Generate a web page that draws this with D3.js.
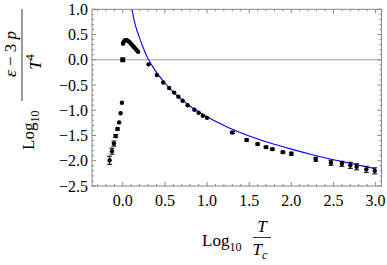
<!DOCTYPE html>
<html>
<head>
<meta charset="utf-8">
<script src="https://cdn.jsdelivr.net/npm/d3@7"></script>
<style>
  body { margin: 0; background: #fff; }
  text { font-family: "Liberation Serif", "DejaVu Serif", serif; fill: #000; }
</style>
</head>
<body>
<div id="chart"></div>
<script>
// lattice points: log10(T/Tc), log10((e-3p)/T^4), error
var logT = [-0.156, -0.128, -0.105, -0.085, -0.062, -0.043, -0.026, -0.010,
            0.003, 0.012, 0.022, 0.033, 0.045, 0.058, 0.072, 0.087, 0.102, 0.118, 0.134, 0.150, 0.166, 0.182,
            0.306, 0.405, 0.48, 0.55, 0.61, 0.66, 0.71, 0.77, 0.85, 0.90, 0.95, 1.00,
            1.30, 1.47, 1.60, 1.70, 1.775, 1.90, 2.00,
            2.29, 2.47, 2.60, 2.70, 2.775, 2.89, 2.99];
var logE = [-1.99, -1.81, -1.66, -1.51, -1.37, -1.24, -1.06, -0.85,
            0.32, 0.36, 0.38, 0.39, 0.39, 0.38, 0.36, 0.34, 0.31, 0.28, 0.25, 0.22, 0.19, 0.16,
            -0.09, -0.30, -0.45, -0.56, -0.65, -0.73, -0.81, -0.90, -0.99, -1.05, -1.11, -1.15,
            -1.44, -1.59, -1.67, -1.73, -1.77, -1.83, -1.86,
            -1.97, -2.04, -2.06, -2.09, -2.12, -2.17, -2.20];
var errE = [0.08, 0.06, 0.05, 0.03, 0.02, 0, 0, 0,
            0, 0, 0, 0, 0, 0, 0, 0, 0, 0, 0, 0, 0, 0,
            0, 0, 0, 0, 0, 0, 0, 0, 0, 0, 0, 0,
            0.02, 0.02, 0.02, 0.02, 0.02, 0.02, 0.03,
            0.04, 0.05, 0.05, 0.06, 0.06, 0.06, 0.06];

// the point at Tc drawn as a square
var squareT = [0.0];
var squareE = [0.0];

// blue curve
var curveT = [0.105, 0.13, 0.15, 0.175, 0.20, 0.25, 0.30, 0.35, 0.40, 0.50, 0.60, 0.70, 0.80, 0.90, 1.00,
              1.25, 1.50, 1.75, 2.00, 2.25, 2.50, 2.75, 3.00];
var curveE = [1.05, 0.82, 0.68, 0.55, 0.43, 0.21, 0.02, -0.12, -0.25, -0.46, -0.64, -0.79, -0.92, -1.03, -1.13,
              -1.34, -1.51, -1.65, -1.77, -1.88, -1.98, -2.07, -2.16];

var xMajor = [0.0, 0.5, 1.0, 1.5, 2.0, 2.5, 3.0];
var yMajor = [1.0, 0.5, 0.0, -0.5, -1.0, -1.5, -2.0, -2.5];

(function(){
var width = 387, height = 265;
var pLeft = 92, pRight = 381.5, pTop = 9.3, pBottom = 186;

var x = d3.scaleLinear().domain([-0.365, 3.07]).range([pLeft, pRight]);
var y = d3.scaleLinear().domain([-2.5, 1.0]).range([pBottom, pTop]);

var svg = d3.select("#chart").append("svg")
    .attr("width", width)
    .attr("height", height);

var defs = svg.append("defs");
defs.append("clipPath").attr("id", "plotclip")
    .append("rect")
    .attr("x", pLeft).attr("y", pTop)
    .attr("width", pRight - pLeft).attr("height", pBottom - pTop);

// zero line
svg.append("line")
    .attr("x1", pLeft).attr("x2", pRight)
    .attr("y1", y(0)).attr("y2", y(0))
    .attr("stroke", "#a0a0a0").attr("stroke-width", 1);

// blue curve
var line = d3.line()
    .x(function(d){ return x(d[0]); })
    .y(function(d){ return y(d[1]); })
    .curve(d3.curveMonotoneX);

svg.append("path")
    .datum(curveT.map(function(t, i){ return [t, curveE[i]]; }))
    .attr("clip-path", "url(#plotclip)")
    .attr("d", line)
    .attr("fill", "none")
    .attr("stroke", "#0000ff")
    .attr("stroke-width", 1.1);

// frame
var frame = svg.append("g").attr("stroke", "#888").attr("stroke-width", 1).attr("fill", "none");
frame.append("rect")
    .attr("x", pLeft).attr("y", pTop)
    .attr("width", pRight - pLeft).attr("height", pBottom - pTop);

var xMinor = d3.range(-3, 31).map(function(i){ return i / 10; });
var yMinor = d3.range(-25, 11).map(function(i){ return i / 10; });

xMinor.forEach(function(v){
    var major = Math.abs(v * 2 - Math.round(v * 2)) < 1e-6;
    var len = major ? 4 : 2;
    frame.append("line").attr("x1", x(v)).attr("x2", x(v)).attr("y1", pBottom).attr("y2", pBottom - len);
    frame.append("line").attr("x1", x(v)).attr("x2", x(v)).attr("y1", pTop).attr("y2", pTop + len);
});
yMinor.forEach(function(v){
    var major = Math.abs(v * 2 - Math.round(v * 2)) < 1e-6;
    var len = major ? 4 : 2;
    frame.append("line").attr("y1", y(v)).attr("y2", y(v)).attr("x1", pLeft).attr("x2", pLeft + len);
    frame.append("line").attr("y1", y(v)).attr("y2", y(v)).attr("x1", pRight).attr("x2", pRight - len);
});

function fmt(v){
    var s = v.toFixed(1);
    return v < 0 ? "\u2212" + s.substring(1) : s;
}

svg.append("g").selectAll("text")
    .data(xMajor).enter().append("text")
    .attr("x", function(d){ return x(d); })
    .attr("y", 206)
    .attr("text-anchor", "middle")
    .attr("font-size", 16)
    .text(fmt);

svg.append("g").selectAll("text")
    .data(yMajor).enter().append("text")
    .attr("x", 88)
    .attr("y", function(d){ return y(d) + 5.5; })
    .attr("text-anchor", "end")
    .attr("font-size", 16)
    .text(fmt);

// error bars
var pts = logT.map(function(t, i){ return {t: t, e: logE[i], err: errE[i]}; });
var eb = svg.append("g").attr("stroke", "#000").attr("stroke-width", 1);
pts.filter(function(d){ return d.err > 0; }).forEach(function(d){
    eb.append("line")
        .attr("x1", x(d.t)).attr("x2", x(d.t))
        .attr("y1", y(d.e - d.err)).attr("y2", y(d.e + d.err));
    [d.e - d.err, d.e + d.err].forEach(function(v){
        eb.append("line")
            .attr("x1", x(d.t) - 2.5).attr("x2", x(d.t) + 2.5)
            .attr("y1", y(v)).attr("y2", y(v));
    });
});

svg.append("g").selectAll("circle")
    .data(pts).enter().append("circle")
    .attr("cx", function(d){ return x(d.t); })
    .attr("cy", function(d){ return y(d.e); })
    .attr("r", 2.2)
    .attr("fill", "#000");

svg.append("g").selectAll("rect")
    .data(squareT).enter().append("rect")
    .attr("x", function(d){ return x(d) - 2.5; })
    .attr("y", function(d, i){ return y(squareE[i]) - 2.5; })
    .attr("width", 5).attr("height", 5)
    .attr("fill", "#000");

// x axis label
var xl = svg.append("g");
xl.append("text")
    .attr("x", 202).attr("y", 246)
    .attr("font-size", 17)
    .text("Log")
    .append("tspan").attr("dy", 5).attr("font-size", 12).text("10");
xl.append("line")
    .attr("x1", 253).attr("x2", 271).attr("y1", 237.5).attr("y2", 237.5)
    .attr("stroke", "#000").attr("stroke-width", 0.8);
xl.append("text")
    .attr("x", 262).attr("y", 232).attr("text-anchor", "middle")
    .attr("font-size", 17).attr("font-style", "italic")
    .text("T");
xl.append("text")
    .attr("x", 260).attr("y", 255).attr("text-anchor", "middle")
    .attr("font-size", 17).attr("font-style", "italic")
    .text("T")
    .append("tspan").attr("dy", 4).attr("font-size", 12).text("c");

// y axis label (rotated)
var yl = svg.append("g").attr("transform", "rotate(-90)");
yl.append("text")
    .attr("x", -150).attr("y", 34)
    .attr("font-size", 17)
    .text("Log")
    .append("tspan").attr("dy", 5).attr("font-size", 12).text("10");
yl.append("line")
    .attr("x1", -101).attr("x2", -9).attr("y1", 22).attr("y2", 22)
    .attr("stroke", "#000").attr("stroke-width", 0.8);
var num = yl.append("text")
    .attr("x", -54).attr("y", 16).attr("text-anchor", "middle")
    .attr("font-size", 17);
num.append("tspan").attr("font-style", "italic").text("\u03b5");
num.append("tspan").text(" \u2212 3 ");
num.append("tspan").attr("font-style", "italic").text("p");
var den = yl.append("text")
    .attr("x", -62).attr("y", 41).attr("text-anchor", "middle")
    .attr("font-size", 17);
den.append("tspan").attr("font-style", "italic").text("T");
den.append("tspan").attr("dy", -7).attr("font-size", 12).text("4");
})();
</script>
</body>
</html>
